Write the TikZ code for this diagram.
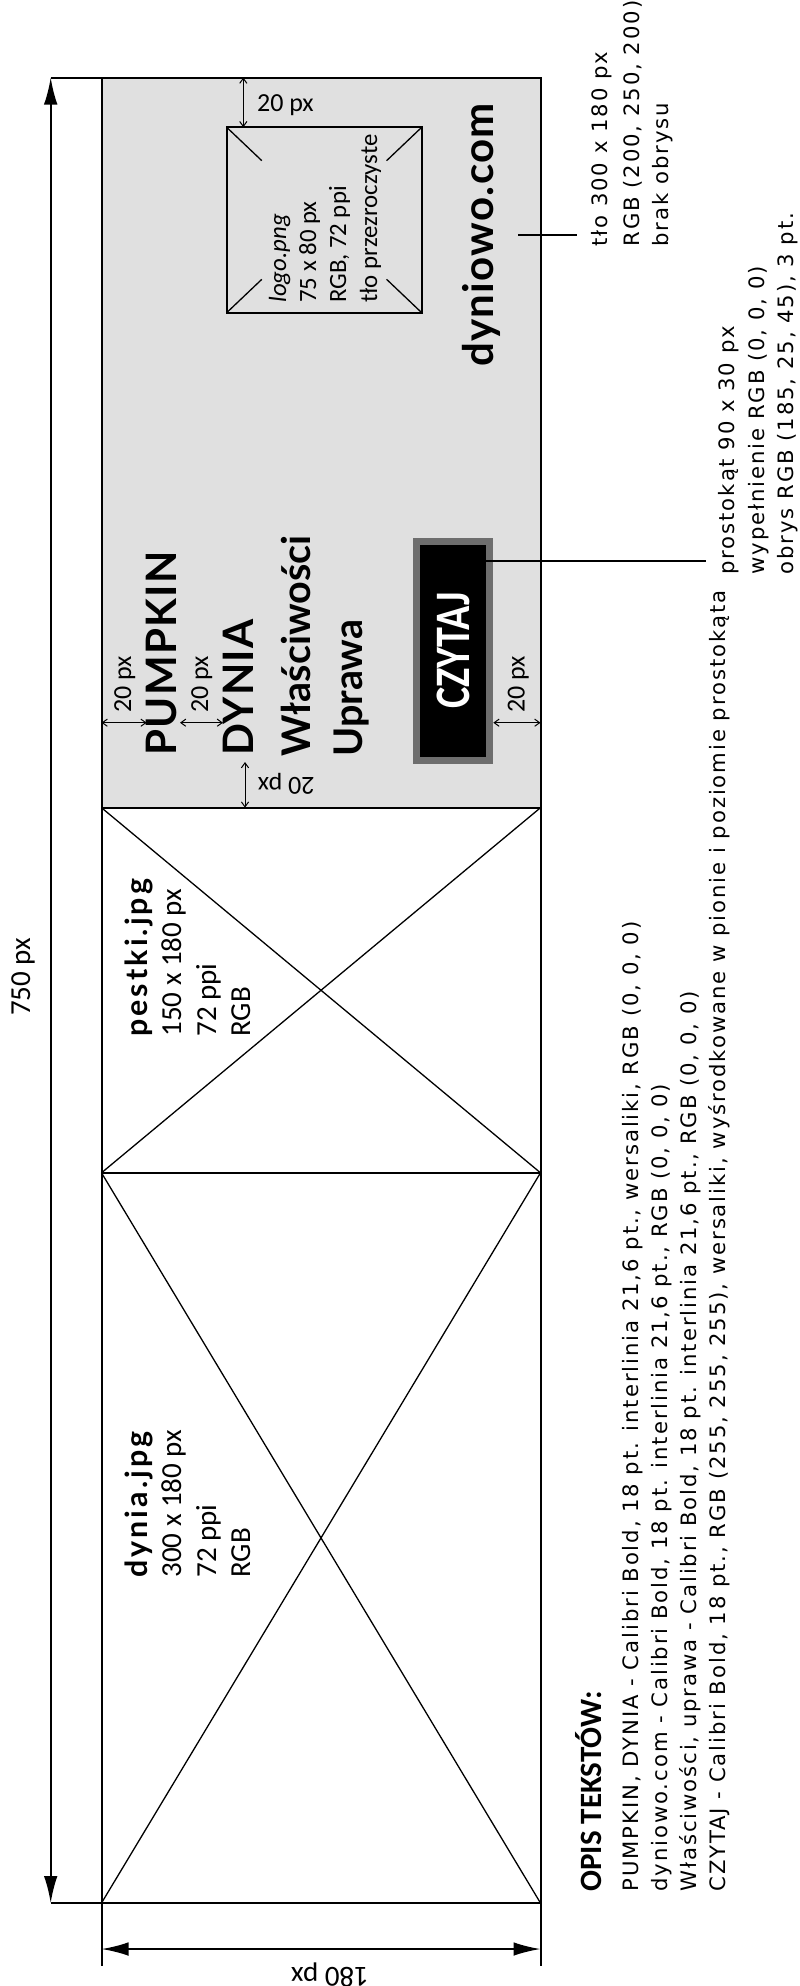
\documentclass[tikz,border=0pt]{standalone}
\usepackage{fontspec}
\usepackage{graphicx}
\setmainfont{Carlito}
\newfontfamily\notefont[LetterSpace=9]{DejaVu Sans}
\newfontfamily\headfont[LetterSpace=3]{Lato}
\newfontfamily\filefont[LetterSpace=10]{Lato}
\newfontfamily\menufont{Lato}
\usetikzlibrary{arrows.meta,calc,positioning}
\definecolor{bggray}{RGB}{224,224,224}
\definecolor{btngray}{RGB}{110,110,110}
\tikzstyle{frame} = [draw, line width=1pt]
\tikzstyle{cross} = [draw, line width=0.65pt]
\tikzstyle{leader} = [draw, line width=0.8pt]
\tikzstyle{dimbig} = [style={<->,>={Latex[length=13.5pt,width=6.8pt]},line width=1pt}]
\tikzstyle{dimsmall} = [style={<->,>={Straight Barb[length=2.5pt,width=3.6pt]},line width=0.5pt}]
\tikzstyle{lbl} = [inner sep=0pt, font=\fontsize{14.5}{17}\selectfont]
\tikzstyle{dimtxt} = [inner sep=0pt, anchor=base west, font=\fontsize{13}{15}\selectfont]
\tikzstyle{note} = [inner sep=0pt, rotate=90, anchor=base west, font=\fontsize{10.6}{15}\notefont]
\tikzstyle{opis} = [inner sep=0pt, rotate=90, anchor=base west, font=\fontsize{15.5}{18}\selectfont\bfseries]
\tikzstyle{head} = [inner sep=0pt, rotate=90, anchor=base west, font=\fontsize{21}{25}\headfont\bfseries]
\tikzstyle{menu} = [inner sep=0pt, rotate=90, anchor=base west, font=\fontsize{19.75}{24}\menufont\bfseries]
\tikzstyle{file} = [inner sep=0pt, rotate=90, anchor=base west, font=\fontsize{15.2}{18}\filefont\bfseries]
\tikzstyle{info} = [inner sep=0pt, rotate=90, anchor=base west, font=\fontsize{14.5}{17}\selectfont]
\tikzstyle{logotxt} = [inner sep=0pt, rotate=90, anchor=base west, font=\fontsize{12.4}{15}\selectfont]
\tikzstyle{logobox} = [draw, line width=1pt, inner sep=0pt, outer sep=0pt, minimum width=97.5pt, minimum height=92.7pt]
\tikzstyle{button} = [draw=btngray, line width=3.5pt, fill=black, text=white, rotate=90, inner sep=0pt, minimum width=109.5pt, minimum height=36.5pt, font=\fontsize{24.8}{28}\selectfont\bfseries]

\begin{document}
\begin{tikzpicture}[x=0.5pt, y=-0.5pt]
	\useasboundingbox (0,0) rectangle (799,1986);
	% banner corners
	\coordinate (tl) at (101.5,77.5);
	\coordinate (tr) at (540.5,77.5);
	\coordinate (gl) at (101.5,807.7);
	\coordinate (gr) at (540.5,807.7);
	\coordinate (pl) at (101.5,1172.8);
	\coordinate (pr) at (540.5,1172.8);
	\coordinate (bl) at (101.5,1903);
	\coordinate (br) at (540.5,1903);
	\fill[bggray] (tl) rectangle (gr);
	\draw[cross] (gl) -- (pr);
	\draw[cross] (gr) -- (pl);
	\draw[cross] (pl) -- (br);
	\draw[cross] (pr) -- (bl);
	\draw[frame] (tl) rectangle (br);
	\draw[frame] (gl) -- (gr);
	\draw[frame] (pl) -- (pr);

	% overall dimensions
	\coordinate (vt) at (50.7,77.5);
	\coordinate (vb) at (50.7,1903);
	\draw[frame] (vt) -- (tl);
	\draw[frame] (vb) -- (bl);
	\draw[dimbig] (vt) -- (vb);
	\node[lbl, rotate=90] (h750) at (23,977) {750 px};
	\coordinate (hl) at (101.5,1949);
	\coordinate (hr) at (540.5,1949);
	\coordinate (hle) at (101.5,1966);
	\coordinate (hre) at (540.5,1966);
	\draw[frame] (bl) -- (hle);
	\draw[frame] (br) -- (hre);
	\draw[dimbig] (hl) -- (hr);
	\node[lbl, rotate=180] (w180) at (330,1975) {180 px};

	% logo
	\node[logobox] (logo) at (324.2,220) {};
	\foreach \c in {north west, north east, south west, south east}
		\draw[cross] (logo.\c) -- ($(logo.\c)!0.36!(logo.center)$);
	\node[logotxt] (logo1) at (286,303) {\itshape logo.png};
	\node[logotxt] (logo2) at (316,303) {75 x 80 px};
	\node[logotxt] (logo3) at (346,303) {RGB, 72 ppi};
	\node[logotxt] (logo4) at (377,303) {tło przezroczyste};

	% texts on the background
	\node[head] (url) at (493,367) {dyniowo.com};
	\node[head] (pumpkin) at (176.7,756) {PUMPKIN};
	\node[head] (dynia) at (253,756) {DYNIA};
	\node[menu] (wlasc) at (310,757) {Właściwości};
	\node[menu] (uprawa) at (362,757) {Uprawa};
	\node[button] (czytaj) at (453,650.5) {\scalebox{0.81}[1]{CZYTAJ}};

	% 20 px spacings
	\coordinate (s1a) at (243.3,77.5);
	\coordinate (s1b) at (243.3,127.3);
	\draw[dimsmall] (s1a) -- (s1b);
	\node[dimtxt] (t1) at (256.7,111.7) {20 px};
	\coordinate (s2a) at (101.5,722.7);
	\coordinate (s2b) at (146.7,722.7);
	\draw[dimsmall] (s2a) -- (s2b);
	\node[dimtxt, rotate=90] (t2) at (131,713) {20 px};
	\coordinate (s3a) at (180,722.7);
	\coordinate (s3b) at (223,722.7);
	\draw[dimsmall] (s3a) -- (s3b);
	\node[dimtxt, rotate=90] (t3) at (208,713) {20 px};
	\coordinate (s4a) at (245,762);
	\coordinate (s4b) at (245,807.7);
	\draw[dimsmall] (s4a) -- (s4b);
	\node[dimtxt, rotate=180] (t4) at (315,777) {20 px};
	\coordinate (s5a) at (493.3,722.7);
	\coordinate (s5b) at (540.5,722.7);
	\draw[dimsmall] (s5a) -- (s5b);
	\node[dimtxt, rotate=90] (t5) at (524.5,713) {20 px};

	% image placeholders
	\node[file] (pest1) at (147,1037) {pestki.jpg};
	\node[info] (pest2) at (181,1037) {150 x 180 px};
	\node[info] (pest3) at (216,1037) {72 ppi};
	\node[info] (pest4) at (250,1037) {RGB};
	\node[file] (dyn1) at (147,1578) {dynia.jpg};
	\node[info] (dyn2) at (181,1578) {300 x 180 px};
	\node[info] (dyn3) at (216,1578) {72 ppi};
	\node[info] (dyn4) at (250,1578) {RGB};

	% notes on the right
	\coordinate (urlTip) at (518,235);
	\coordinate (urlEnd) at (577,235);
	\draw[leader] (urlTip) -- (urlEnd);
	\node[note] (tlo1) at (607,247) {tło 300 x 180 px};
	\node[note] (tlo2) at (639,247) {RGB (200, 250, 200)};
	\node[note] (tlo3) at (668,247) {brak obrysu};
	\coordinate (btnTip) at (473,561);
	\coordinate (btnEnd) at (706,561);
	\draw[leader] (btnTip) -- (btnEnd);
	\node[note] (prost1) at (734.5,575) {prostokąt 90 x 30 px};
	\node[note] (prost2) at (764.5,575) {wypełnienie RGB (0, 0, 0)};
	\node[note] (prost3) at (793.5,575) {obrys RGB (185, 25, 45), 3 pt.};

	% description of texts
	\node[opis] (opis0) at (601,1892) {OPIS TEKSTÓW:};
	\node[note] (opis1) at (638,1892) {PUMPKIN, DYNIA - Calibri Bold, 18 pt. interlinia 21,6 pt., wersaliki, RGB (0, 0, 0)};
	\node[note] (opis2) at (667,1892) {dyniowo.com - Calibri Bold, 18 pt. interlinia 21,6 pt., RGB (0, 0, 0)};
	\node[note] (opis3) at (696,1892) {Właściwości, uprawa - Calibri Bold, 18 pt. interlinia 21,6 pt., RGB (0, 0, 0)};
	\node[note] (opis4) at (725,1892) {CZYTAJ - Calibri Bold, 18 pt., RGB (255, 255, 255), wersaliki, wyśrodkowane w pionie i poziomie prostokąta};
\end{tikzpicture}
\end{document}
